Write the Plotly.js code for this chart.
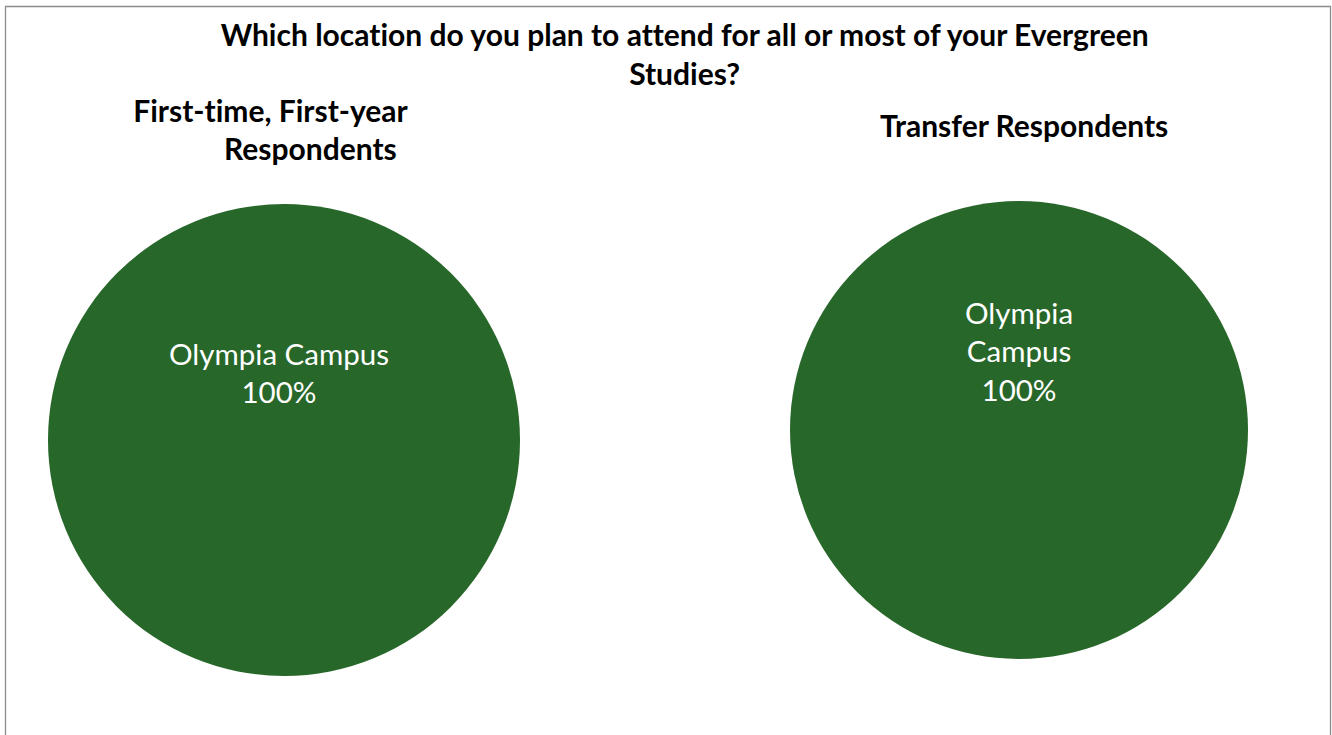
<!DOCTYPE html>
<html><head><meta charset="utf-8">
<script src="https://cdn.plot.ly/plotly-3.0.1.min.js"></script>
<style>html,body{margin:0;padding:0;background:#fff}#chart{width:1332px;height:735px}
#chart text{font-variant-ligatures:none !important;font-feature-settings:"liga" 0,"clig" 0 !important}</style>
</head><body><div id="chart"></div>
<script>
const chartTitle = "Which location do you plan to attend for all or most of your Evergreen<br>Studies?";
const groups = ["First-time, First-year Respondents", "Transfer Respondents"];
const categories = ["Olympia Campus"];
const firstYearValues = [100];
const transferValues = [100];
const sliceColors = ["#28672a"];

const W = 1332, H = 735;
const px = x => x / W, py = y => 1 - y / H;
const FONT = "Lato, 'Open Sans', sans-serif";

function pct(vals, i){ const s = vals.reduce((a,b)=>a+b,0); return Math.round(vals[i]/s*100) + "%"; }

const data = [
  {type:"pie", labels:categories, values:firstYearValues, name:groups[0], sort:false,
   marker:{colors:sliceColors, line:{width:0}}, textinfo:"none", hoverinfo:"label+percent",
   domain:{x:[px(48),px(520)], y:[py(676),py(204)]}, showlegend:false},
  {type:"pie", labels:categories, values:transferValues, name:groups[1], sort:false,
   marker:{colors:sliceColors, line:{width:0}}, textinfo:"none", hoverinfo:"label+percent",
   domain:{x:[px(790),px(1248)], y:[py(659),py(201)]}, showlegend:false}
];

const titleFont = {family:FONT, size:30, color:"#000", weight:"bold"};
const labelFont = {family:FONT, size:29.5, color:"#fff"};
function ann(text, x, y, font){
  return {text:text, x:px(x), y:py(y), xref:"paper", yref:"paper", xanchor:"center", yanchor:"middle",
          showarrow:false, font:font, align:"center"};
}
const annotations = [
  ann("<b>"+chartTitle+"</b>", 684, 54, titleFont),
  ann("<b>First-time, First-year</b>", 271, 110, titleFont),
  ann("<b>Respondents</b>", 310, 148, titleFont),
  ann("<b>"+groups[1]+"</b>", 1024, 125, titleFont),
  ann(categories[0]+"<br>"+pct(firstYearValues,0), 279, 372, labelFont),
  ann(categories[0].replace(" ","<br>")+"<br>"+pct(transferValues,0), 1019, 351, labelFont)
];

const layout = {
  width:W, height:H, margin:{l:0,r:0,t:0,b:0},
  paper_bgcolor:"#fff", plot_bgcolor:"#fff",
  font:{family:FONT},
  annotations:annotations,
  shapes:[{type:"rect", xref:"paper", yref:"paper", x0:px(5.5), x1:px(1330.5), y0:py(740), y1:py(6.5),
           line:{color:"#8c8c8c", width:1.3}, fillcolor:"rgba(0,0,0,0)"}]
};
Plotly.newPlot("chart", data, layout, {displayModeBar:false, staticPlot:true});
</script></body></html>
